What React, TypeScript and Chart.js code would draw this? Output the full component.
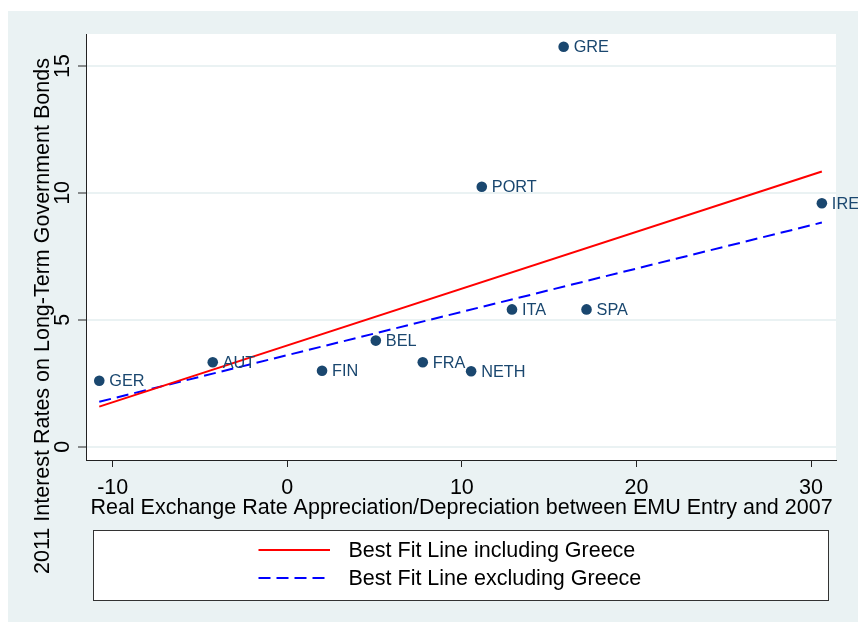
import React, { useEffect, useRef } from "react";
import { Chart, registerables } from "chart.js";

Chart.register(...registerables);

const countries = ["GER", "AUT", "FIN", "BEL", "FRA", "NETH", "ITA", "SPA", "PORT", "GRE", "IRE"];
const appreciation = [-10.77, -4.27, 1.99, 5.07, 7.76, 10.53, 12.87, 17.14, 11.14, 15.83, 30.62];
const interestRates = [2.6, 3.33, 2.99, 4.18, 3.33, 2.97, 5.41, 5.41, 10.24, 15.76, 9.59];

const fitX = [-10.77, 30.62];
const fitIncludingGreece = [1.58, 10.84];
const fitExcludingGreece = [1.77, 8.83];

const xTicks = [-10, 0, 10, 20, 30];
const yTicks = [0, 5, 10, 15];

const xTitle = "Real Exchange Rate Appreciation/Depreciation between EMU Entry and 2007";
const yTitle = "2011 Interest Rates on Long-Term Government Bonds";
const legendLabels = ["Best Fit Line including Greece", "Best Fit Line excluding Greece"];

const W = 858;
const H = 622;
const PANEL = "#EAF2F3";
const NAVY = "#1A476F";
const AXIS = "#222222";
const FONT = '"Liberation Sans", Arial, sans-serif';

const decorPlugin = {
  id: "decor",
  beforeDraw(chart: any) {
    const { ctx, chartArea } = chart;
    ctx.save();
    ctx.fillStyle = PANEL;
    ctx.fillRect(8, 11, W - 8, H - 11);
    ctx.fillStyle = "#ffffff";
    ctx.fillRect(chartArea.left, chartArea.top, chartArea.right - chartArea.left, chartArea.bottom - chartArea.top);
    ctx.restore();
  },
  afterDraw(chart: any) {
    const { ctx } = chart;
    const xs = chart.scales.x;
    const ys = chart.scales.y;
    ctx.save();

    // point labels
    ctx.fillStyle = NAVY;
    ctx.font = `16.3px ${FONT}`;
    ctx.textBaseline = "middle";
    ctx.textAlign = "left";
    countries.forEach((c, i) => {
      const px = xs.getPixelForValue(appreciation[i]);
      const py = ys.getPixelForValue(interestRates[i]);
      ctx.fillText(c, px + 10, py + 1);
    });

    // tick labels
    ctx.fillStyle = "#000000";
    ctx.font = `21.5px ${FONT}`;
    ctx.textBaseline = "alphabetic";
    ctx.textAlign = "center";
    xTicks.forEach((t) => {
      ctx.fillText(String(t), xs.getPixelForValue(t), 493.5);
    });
    yTicks.forEach((t) => {
      ctx.save();
      ctx.translate(68.5, ys.getPixelForValue(t));
      ctx.rotate(-Math.PI / 2);
      ctx.fillText(String(t), 0, 0);
      ctx.restore();
    });

    // axis titles
    ctx.fillText(xTitle, 461.5, 513.5);
    ctx.save();
    ctx.translate(48.5, 316);
    ctx.rotate(-Math.PI / 2);
    ctx.fillText(yTitle, 0, 0);
    ctx.restore();

    // legend
    ctx.fillStyle = "#ffffff";
    ctx.fillRect(93.5, 530, 735, 70);
    ctx.strokeStyle = "#333333";
    ctx.lineWidth = 1;
    ctx.strokeRect(93.5, 530.5, 735, 70);

    const rows = [550, 578];
    const colors = ["#FF0000", "#0000FF"];
    const dashes = [[], [12, 6]];
    rows.forEach((y, i) => {
      ctx.beginPath();
      ctx.strokeStyle = colors[i];
      ctx.lineWidth = 2;
      ctx.setLineDash(dashes[i]);
      ctx.moveTo(258.5, y);
      ctx.lineTo(330, y);
      ctx.stroke();
      ctx.setLineDash([]);
      ctx.fillStyle = "#000000";
      ctx.textAlign = "left";
      ctx.textBaseline = "middle";
      ctx.fillText(legendLabels[i], 348.5, y + 1);
    });

    ctx.restore();
  },
};

export default function App() {
  const ref = useRef<HTMLCanvasElement | null>(null);

  useEffect(() => {
    if (!ref.current) return;
    const points = countries.map((_, i) => ({ x: appreciation[i], y: interestRates[i] }));
    const chart = new Chart(ref.current, {
      type: "scatter",
      data: {
        datasets: [
          {
            label: legendLabels[0],
            data: fitX.map((x, i) => ({ x, y: fitIncludingGreece[i] })),
            showLine: true,
            borderColor: "#FF0000",
            borderWidth: 2,
            pointRadius: 0,
            fill: false,
          },
          {
            label: legendLabels[1],
            data: fitX.map((x, i) => ({ x, y: fitExcludingGreece[i] })),
            showLine: true,
            borderColor: "#0000FF",
            borderWidth: 2,
            borderDash: [12, 6],
            pointRadius: 0,
            fill: false,
          },
          {
            label: "Countries",
            data: points,
            pointRadius: 5.3,
            pointBackgroundColor: NAVY,
            pointBorderWidth: 0,
            showLine: false,
          },
        ],
      },
      options: {
        animation: false,
        responsive: false,
        devicePixelRatio: 1,
        layout: { padding: { left: 0, right: W - 836, top: 34, bottom: 0 } },
        plugins: { legend: { display: false }, tooltip: { enabled: false }, title: { display: false } },
        scales: {
          x: {
            type: "linear",
            min: -11.53,
            max: 31.43,
            afterBuildTicks: (s: any) => {
              s.ticks = xTicks.map((v) => ({ value: v }));
            },
            afterFit: (s: any) => {
              s.height = H - 460;
            },
            ticks: { display: false },
            grid: {
              drawOnChartArea: false,
              drawTicks: true,
              tickLength: 7,
              tickColor: AXIS,
              tickWidth: 1,
            },
            border: { display: true, color: AXIS, width: 1 },
          },
          y: {
            type: "linear",
            min: -0.524,
            max: 16.26,
            afterBuildTicks: (s: any) => {
              s.ticks = yTicks.map((v) => ({ value: v }));
            },
            afterFit: (s: any) => {
              s.width = 86;
            },
            ticks: { display: false },
            grid: {
              drawOnChartArea: true,
              color: PANEL,
              lineWidth: 2,
              drawTicks: true,
              tickLength: 8,
              tickColor: AXIS,
              tickWidth: 1,
            },
            border: { display: true, color: AXIS, width: 1 },
          },
        },
      },
      plugins: [decorPlugin],
    });
    return () => chart.destroy();
  }, []);

  return (
    <div style={{ position: "absolute", left: 0, top: 0, width: W, height: H }}>
      <canvas ref={ref} width={W} height={H} style={{ width: W, height: H, display: "block" }} />
    </div>
  );
}
